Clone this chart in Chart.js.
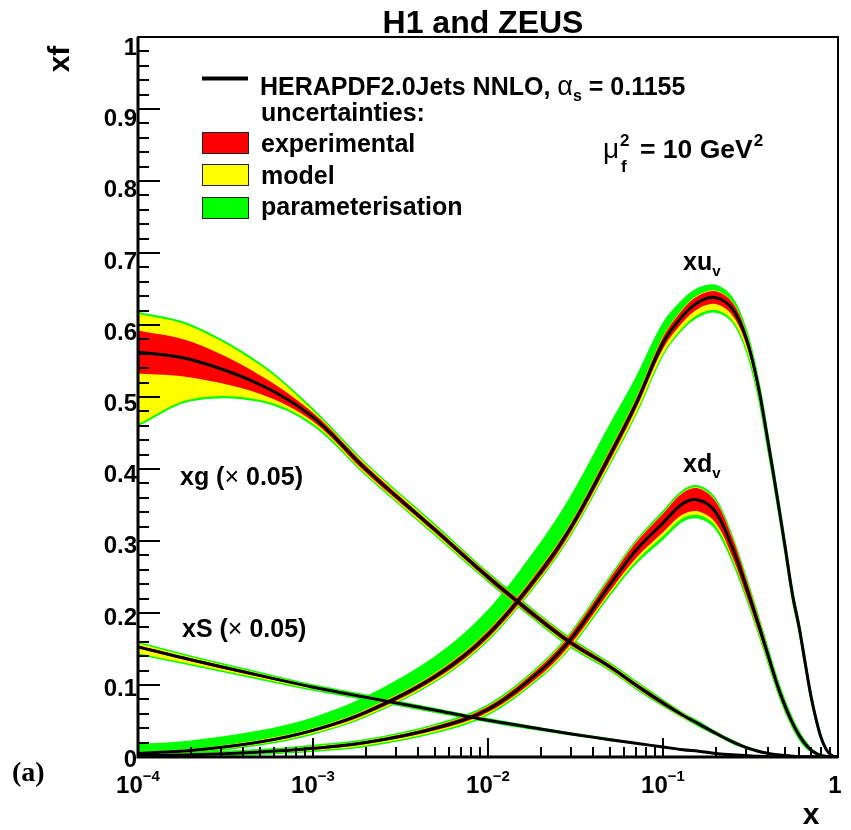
<!DOCTYPE html>
<html>
<head>
<meta charset="utf-8">
<title>H1 and ZEUS PDFs</title>
<script src="https://cdn.jsdelivr.net/npm/chart.js@4.4.0/dist/chart.umd.min.js"></script>
<style>
html, body { margin: 0; padding: 0; background: #fff; }
#wrap { width: 851px; height: 830px; }
</style>
</head>
<body>
<div id="wrap"><canvas id="myChart" width="851" height="830"></canvas></div>
<script>
// x grid (Bjorken x) shared by all curves
var xVals = [1e-4, 2e-4, 5e-4, 1e-3, 2e-3, 5e-3, 1e-2, 2e-2, 3e-2, 5e-2, 7e-2, 0.1, 0.13, 0.16, 0.2, 0.25, 0.3, 0.35, 0.4, 0.45, 0.5, 0.55, 0.6, 0.65, 0.7, 0.75, 0.8, 0.85, 0.9, 0.95, 1];

// xu_v
var xuvCentral = [0.005, 0.009, 0.021, 0.037, 0.062, 0.112, 0.17, 0.257, 0.32, 0.42, 0.49, 0.575, 0.613, 0.632, 0.638, 0.622, 0.58, 0.515, 0.435, 0.36, 0.29, 0.225, 0.18, 0.13, 0.085, 0.052, 0.027, 0.012, 0.004, 0.0005, 0];
var xuvExp   = [.001,.0015,.002,.002,.003,.004,.005,.006,.006,.007,.007,.008,.009,.009,.009,.009,.008,.008,.007,.006,.006,.005,.004,.004,.003,.002,.002,.001,.001,0,0];
var xuvModUp = [.002,.002,.003,.003,.004,.005,.006,.007,.007,.008,.008,.009,.01,.01,.01,.01,.009,.009,.008,.007,.007,.006,.005,.005,.004,.003,.002,.001,.001,0,0];
var xuvModDn = [.002,.002,.003,.004,.005,.006,.007,.008,.009,.011,.013,.015,.016,.017,.017,.016,.014,.012,.01,.009,.008,.007,.006,.005,.004,.003,.002,.001,.001,0,0];
var xuvParUp = [.012,.013,.015,.017,.021,.027,.033,.04,.043,.042,.036,.027,.022,.019,.017,.015,.012,.01,.009,.008,.007,.006,.005,.005,.004,.003,.002,.001,.001,0,0];
var xuvParDn = [.003,.003,.004,.005,.006,.007,.008,.009,.01,.012,.014,.016,.018,.02,.02,.018,.016,.014,.012,.01,.009,.008,.007,.006,.005,.003,.002,.001,.001,0,0];

// xd_v
var xdvCentral = [0.002, 0.003, 0.007, 0.012, 0.02, 0.04, 0.066, 0.12, 0.165, 0.24, 0.287, 0.325, 0.352, 0.357, 0.34, 0.29, 0.235, 0.185, 0.14, 0.10, 0.07, 0.047, 0.03, 0.018, 0.01, 0.005, 0.002, 0.001, 0, 0, 0];
var xdvExp   = [.0005,.001,.001,.002,.002,.003,.004,.006,.007,.009,.011,.013,.015,.016,.015,.013,.011,.009,.007,.006,.005,.004,.003,.002,.001,.001,.001,0,0,0,0];
var xdvModUp = [.001,.002,.002,.003,.003,.004,.005,.007,.008,.01,.012,.014,.016,.017,.016,.014,.012,.01,.008,.007,.006,.005,.004,.003,.002,.001,.001,0,0,0,0];
var xdvModDn = [.001,.002,.002,.003,.004,.005,.006,.008,.01,.012,.015,.018,.02,.021,.019,.016,.013,.011,.009,.007,.006,.005,.004,.003,.002,.001,.001,0,0,0,0];
var xdvParUp = [.002,.003,.003,.004,.004,.005,.006,.008,.009,.011,.013,.016,.018,.019,.018,.015,.013,.011,.009,.008,.007,.006,.005,.004,.002,.001,.001,0,0,0,0];
var xdvParDn = [.002,.003,.003,.004,.005,.006,.007,.009,.011,.014,.018,.022,.024,.025,.023,.019,.015,.012,.01,.008,.007,.006,.005,.004,.002,.001,.001,0,0,0,0];

// xg (x 0.05)
var xgCentral = [0.5625, 0.552, 0.517, 0.472, 0.40, 0.315, 0.25, 0.19, 0.158, 0.125, 0.1, 0.075, 0.058, 0.046, 0.033, 0.021, 0.013, 0.008, 0.005, 0.003, 0.002, 0.001, 0.0005, 0, 0, 0, 0, 0, 0, 0, 0];
var xgExp   = [.03,.025,.013,.006,.005,.004,.004,.004,.004,.003,.003,.003,.002,.002,.002,.001,.001,.001,0,0,0,0,0,0,0,0,0,0,0,0,0];
var xgModUp = [.053,.046,.027,.009,.007,.006,.005,.005,.005,.004,.004,.003,.003,.002,.002,.001,.001,.001,0,0,0,0,0,0,0,0,0,0,0,0,0];
var xgModDn = [.10,.055,.021,.009,.007,.006,.005,.005,.005,.004,.004,.003,.003,.002,.002,.001,.001,.001,0,0,0,0,0,0,0,0,0,0,0,0,0];
var xgParUp = [.055,.048,.029,.011,.008,.007,.006,.006,.006,.005,.005,.004,.003,.003,.002,.002,.001,.001,0,0,0,0,0,0,0,0,0,0,0,0,0];
var xgParDn = [.102,.057,.023,.011,.008,.007,.006,.006,.006,.005,.005,.004,.003,.003,.002,.002,.001,.001,0,0,0,0,0,0,0,0,0,0,0,0,0];

// xS (x 0.05)
var xsCentral = [0.153, 0.135, 0.113, 0.097, 0.083, 0.065, 0.051, 0.039, 0.032, 0.024, 0.019, 0.014, 0.010, 0.008, 0.005, 0.003, 0.002, 0.001, 0.0005, 0, 0, 0, 0, 0, 0, 0, 0, 0, 0, 0, 0];
var xsExp   = [.002,.002,.002,.001,.001,.001,.001,.001,.001,.001,0,0,0,0,0,0,0,0,0,0,0,0,0,0,0,0,0,0,0,0,0];
var xsModUp = [.005,.004,.003,.002,.002,.001,.001,.001,.001,.001,0,0,0,0,0,0,0,0,0,0,0,0,0,0,0,0,0,0,0,0,0];
var xsModDn = [.009,.006,.004,.003,.002,.002,.001,.001,.001,.001,0,0,0,0,0,0,0,0,0,0,0,0,0,0,0,0,0,0,0,0,0];
var xsParUp = [.006,.005,.004,.003,.003,.002,.002,.001,.001,.001,0,0,0,0,0,0,0,0,0,0,0,0,0,0,0,0,0,0,0,0,0];
var xsParDn = [.010,.007,.005,.004,.003,.003,.002,.002,.001,.001,0,0,0,0,0,0,0,0,0,0,0,0,0,0,0,0,0,0,0,0,0];

// axis labels
var yTickValues = [0, 0.1, 0.2, 0.3, 0.4, 0.5, 0.6, 0.7, 0.8, 0.9, 1];
var yTickLabels = ['0', '0.1', '0.2', '0.3', '0.4', '0.5', '0.6', '0.7', '0.8', '0.9', '1'];
var xTickExps = [-4, -3, -2, -1, 0];

var FONT = '"Liberation Sans", Arial, Helvetica, sans-serif';
var RED = '#ff0000', YELLOW = '#ffff00', GREEN = '#00ff00';

function edge(c, d, sign) {
  return xVals.map(function(x, i) { return { x: x, y: c[i] + sign * d[i] }; });
}

function band(hi, lo, color, order, bw) {
  var common = {
    pointRadius: 0, tension: 0.35,
    borderColor: color, borderWidth: bw, order: order
  };
  return [
    Object.assign({ data: hi, fill: '+1', backgroundColor: color }, common),
    Object.assign({ data: lo, fill: false, backgroundColor: color }, common)
  ];
}

var pdfs = [
  { c: xuvCentral, exp: xuvExp, mu: xuvModUp, md: xuvModDn, pu: xuvParUp, pd: xuvParDn },
  { c: xdvCentral, exp: xdvExp, mu: xdvModUp, md: xdvModDn, pu: xdvParUp, pd: xdvParDn },
  { c: xgCentral,  exp: xgExp,  mu: xgModUp,  md: xgModDn,  pu: xgParUp,  pd: xgParDn },
  { c: xsCentral,  exp: xsExp,  mu: xsModUp,  md: xsModDn,  pu: xsParUp,  pd: xsParDn }
];

var datasets = [];
pdfs.forEach(function(p) {
  datasets = datasets.concat(band(edge(p.c, p.pu, 1), edge(p.c, p.pd, -1), GREEN, 40, 1.5));
  datasets = datasets.concat(band(edge(p.c, p.mu, 1), edge(p.c, p.md, -1), YELLOW, 30, 0));
  datasets = datasets.concat(band(edge(p.c, p.exp, 1), edge(p.c, p.exp, -1), RED, 20, 0));
});
pdfs.forEach(function(p) {
  datasets.push({
    data: xVals.map(function(x, i) { return { x: x, y: p.c[i] }; }),
    borderColor: '#000', borderWidth: 3, pointRadius: 0, fill: false,
    tension: 0.35, order: 10
  });
});

// draw a run of text pieces, returns end x
function runs(ctx, x, y, parts) {
  parts.forEach(function(p) {
    ctx.font = (p.w || 'bold') + ' ' + p.s + 'px ' + (p.f || FONT);
    ctx.fillText(p.t, x + (p.dx || 0), y + (p.dy || 0));
    x += ctx.measureText(p.t).width + (p.dx || 0);
  });
  return x;
}
function runsWidth(ctx, parts) {
  var w = 0;
  parts.forEach(function(p) {
    ctx.font = (p.w || 'bold') + ' ' + p.s + 'px ' + (p.f || FONT);
    w += ctx.measureText(p.t).width;
  });
  return w;
}

var decor = {
  id: 'decor',
  afterDraw: function(chart) {
    var ctx = chart.ctx, xs = chart.scales.x, ys = chart.scales.y, a = chart.chartArea;
    ctx.save();
    ctx.strokeStyle = '#000';
    ctx.fillStyle = '#000';
    ctx.lineWidth = 2;
    ctx.strokeRect(a.left, a.top, a.right - a.left, a.bottom - a.top);
    ctx.lineWidth = 3;
    ctx.beginPath();
    ctx.moveTo(a.left, a.top); ctx.lineTo(a.left, a.bottom); ctx.lineTo(a.right, a.bottom);
    ctx.stroke();

    // ticks inside the frame
    ctx.lineWidth = 2;
    ctx.beginPath();
    for (var k = 0; k <= 50; k++) {
      var py = Math.round(ys.getPixelForValue(k * 0.02));
      var len = (k % 5 === 0) ? 22 : 11;
      ctx.moveTo(a.left, py); ctx.lineTo(a.left + len, py);
    }
    xTickExps.forEach(function(e) {
      var dec = Math.pow(10, e);
      var px = Math.round(xs.getPixelForValue(dec));
      ctx.moveTo(px, a.bottom); ctx.lineTo(px, a.bottom - 19);
      if (e < 0) {
        for (var m = 2; m <= 9; m++) {
          var pm = Math.round(xs.getPixelForValue(m * dec));
          ctx.moveTo(pm, a.bottom); ctx.lineTo(pm, a.bottom - 10);
        }
      }
    });
    ctx.stroke();

    // y labels
    ctx.textBaseline = 'alphabetic';
    ctx.textAlign = 'right';
    ctx.font = 'bold 24px ' + FONT;
    yTickValues.forEach(function(v, i) {
      var py = ys.getPixelForValue(v);
      ctx.fillText(yTickLabels[i], 137, py + 10 + 8 * v);
    });

    // x labels
    ctx.textAlign = 'left';
    xTickExps.forEach(function(e) {
      var px = xs.getPixelForValue(Math.pow(10, e));
      var parts = e === 0 ? [{ t: '1', s: 24 }]
        : [{ t: '10', s: 24 }, { t: '\u2212' + (-e), s: 15, dy: -12 }];
      var w = runsWidth(ctx, parts);
      runs(ctx, px - w / 2 - (e === 0 ? 3 : 0), 793, parts);
    });

    // axis titles
    ctx.font = 'bold 30px ' + FONT;
    ctx.textAlign = 'center';
    ctx.fillText('x', 811, 824);
    ctx.save();
    ctx.translate(69, 59);
    ctx.rotate(-Math.PI / 2);
    ctx.fillText('xf', 0, 0);
    ctx.restore();

    // title
    ctx.font = 'bold 32px ' + FONT;
    ctx.fillText('H1 and ZEUS', 483, 33);

    // (a)
    ctx.textAlign = 'left';
    ctx.font = 'bold 28px "Liberation Serif", "Times New Roman", serif';
    ctx.fillText('(a)', 12, 781);

    // legend
    ctx.lineWidth = 4;
    ctx.beginPath(); ctx.moveTo(202, 78.5); ctx.lineTo(248, 78.5); ctx.stroke();
    runs(ctx, 260, 95, [
      { t: 'HERAPDF2.0Jets NNLO, ', s: 25 },
      { t: '\u03b1', s: 27, w: 'normal' },
      { t: 's', s: 16, dy: 6 },
      { t: ' = 0.1155', s: 25 }
    ]);
    runs(ctx, 261, 121, [{ t: 'uncertainties:', s: 25 }]);
    var boxes = [[RED, 132, 'experimental', 152], [YELLOW, 164, 'model', 184], [GREEN, 197, 'parameterisation', 215]];
    ctx.lineWidth = 1;
    boxes.forEach(function(b) {
      ctx.fillStyle = b[0];
      ctx.fillRect(202, b[1], 47, 22);
      ctx.strokeStyle = '#222';
      ctx.strokeRect(202.5, b[1] + 0.5, 46, 21);
      ctx.fillStyle = '#000';
      runs(ctx, 261, b[3], [{ t: b[2], s: 25 }]);
    });

    // scale annotation
    runs(ctx, 603, 158, [{ t: '\u03bc', s: 28, w: 'normal' }]);
    runs(ctx, 620, 146, [{ t: '2', s: 17 }]);
    runs(ctx, 621, 172, [{ t: 'f', s: 17 }]);
    var end = runs(ctx, 640, 158, [{ t: '= 10 GeV', s: 26.5 }]);
    runs(ctx, end + 1, 146, [{ t: '2', s: 17 }]);

    // curve labels
    runs(ctx, 683, 270, [{ t: 'xu', s: 25 }, { t: 'v', s: 15, dy: 6 }]);
    runs(ctx, 683, 472, [{ t: 'xd', s: 25 }, { t: 'v', s: 15, dy: 6 }]);
    runs(ctx, 180, 485, [{ t: 'xg (', s: 25 }, { t: '\u00d7', s: 25, w: 'normal' }, { t: ' 0.05)', s: 25 }]);
    runs(ctx, 182, 637, [{ t: 'xS (', s: 25 }, { t: '\u00d7', s: 25, w: 'normal' }, { t: ' 0.05)', s: 25 }]);
    ctx.restore();
  }
};

var ctx = document.getElementById('myChart').getContext('2d');
var chart = new Chart(ctx, {
  type: 'line',
  data: { datasets: datasets },
  options: {
    responsive: false,
    animation: false,
    devicePixelRatio: 1,
    layout: { padding: { left: 138, right: 13, top: 37, bottom: 73 } },
    plugins: { legend: { display: false }, tooltip: { enabled: false } },
    scales: {
      x: { type: 'logarithmic', min: 1e-4, max: 1, display: false },
      y: { type: 'linear', min: 0, max: 1, display: false }
    }
  },
  plugins: [decor]
});
</script>
</body>
</html>
